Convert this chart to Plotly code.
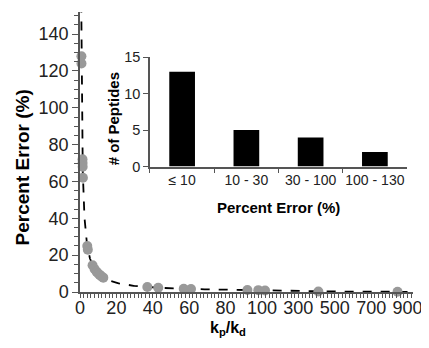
import numpy as np
import plotly.graph_objects as go

# ---- data ----
kp_kd = [0.78, 0.81, 1.38, 1.42, 1.47, 1.60, 4.0, 4.3, 6.9, 8.0, 9.1, 10.0, 10.8, 11.8, 12.8,
         37, 43, 57, 61, 92, 98, 117, 410, 845]
pct_error = [128, 124, 72, 70, 68, 62, 25, 23, 14.5, 12.5, 11, 10, 9.3, 8.5, 7.8,
             2.7, 2.3, 1.75, 1.6, 1.1, 1.0, 0.85, 0.24, 0.12]

bins = ["\u2264 10", "10 - 30", "30 - 100", "100 - 130"]
counts = [13, 5, 4, 2]

x_tick_vals_raw = [0, 20, 40, 60, 80, 100, 300, 500, 700, 900]
x_tick_text = ["0", "20", "40", "60", "80", "100", "300", "500", "700", "900"]
y_tick_vals = [0, 20, 40, 60, 80, 100, 120, 140]


def brk(v):
    """Broken x scale: linear to 100, then compressed 10x."""
    v = np.asarray(v, dtype=float)
    return np.where(v <= 100, v, 100 + (v - 100) / 10.0)


# power-law trendline fitted to the data (like a spreadsheet trendline)
lx, ly = np.log(kp_kd), np.log(pct_error)
b, a = np.polyfit(lx, ly, 1)
fit_x = np.geomspace(0.6, 900, 600)
fit_y = np.exp(a) * fit_x ** b

FONT = "Liberation Sans, Arial, sans-serif"
AX = "#555555"
TXT = "#222222"

fig = go.Figure()
fig.add_trace(go.Scatter(x=brk(fit_x), y=fit_y, mode="lines",
                         line=dict(color="black", width=1.8, dash="dash"),
                         hoverinfo="skip", xaxis="x", yaxis="y"))
fig.add_trace(go.Scatter(x=brk(kp_kd), y=pct_error, mode="markers",
                         marker=dict(color="#999999", size=10),
                         cliponaxis=False, xaxis="x", yaxis="y"))
fig.add_trace(go.Bar(x=bins, y=counts, marker=dict(color="black", line=dict(width=0)),
                     width=0.4, xaxis="x2", yaxis="y2"))

# page body has an 8px default margin, so the figure is drawn 8px smaller
fig.update_layout(
    width=421, height=340,
    margin=dict(l=72, r=16, t=4, b=56, autoexpand=False),
    paper_bgcolor="white", plot_bgcolor="white",
    showlegend=False,
    font=dict(family=FONT, color=TXT),
    xaxis=dict(
        domain=[0, 1], range=[0, 183], automargin=False,
        tickmode="array", tickvals=list(brk(x_tick_vals_raw)), ticktext=x_tick_text,
        ticks="outside", ticklen=4, tickcolor=AX, tickwidth=1,
        minor=dict(dtick=2, tick0=0, ticks="outside", ticklen=4, tickcolor=AX),
        showline=True, linecolor=AX, linewidth=1.5,
        showgrid=False, zeroline=False, tickangle=0, ticklabelstandoff=-5,
        tickfont=dict(size=18, color=TXT),
    ),
    yaxis=dict(
        domain=[0, 1], range=[0, 152], automargin=False,
        tickmode="array", tickvals=y_tick_vals,
        ticks="outside", ticklen=6, tickcolor=AX,
        minor=dict(dtick=5, tick0=0, ticks="outside", ticklen=4, tickcolor=AX),
        showline=True, linecolor=AX, linewidth=1.5,
        showgrid=False, zeroline=False,
        tickfont=dict(size=18, color=TXT),
    ),
    xaxis2=dict(
        domain=[0.2102, 0.982], anchor="y2", automargin=False,
        type="category", tickson="boundaries", tickangle=0,
        ticks="outside", ticklen=5, tickcolor=AX,
        showline=True, linecolor=AX, linewidth=1.5,
        showgrid=False, zeroline=False,
        tickfont=dict(size=14, color=TXT),
    ),
    yaxis2=dict(
        domain=[0.448, 0.8387], anchor="x2", range=[0, 15], automargin=False,
        tickvals=[0, 5, 10, 15],
        ticks="outside", ticklen=5, tickcolor=AX,
        showline=True, linecolor=AX, linewidth=1.5,
        showgrid=False, zeroline=False,
        tickfont=dict(size=14.5, color=TXT),
    ),
    annotations=[
        dict(text="<b>Percent Error (%)</b>", xref="paper", yref="paper",
             x=-0.174, y=0.445, textangle=-90, showarrow=False,
             xanchor="center", yanchor="middle", font=dict(size=19, color="black")),
        dict(text="<b>k<sub>p</sub>/k<sub>d</sub></b>", xref="paper", yref="paper",
             x=0.444, y=-0.13, showarrow=False,
             xanchor="center", yanchor="middle", font=dict(size=16, color="black")),
        dict(text="<b>Percent Error (%)</b>", xref="paper", yref="paper",
             x=0.595, y=0.301, showarrow=False,
             xanchor="center", yanchor="middle", font=dict(size=15, color="black")),
        dict(text="<b># of Peptides</b>", xref="paper", yref="paper",
             x=0.099, y=0.62, textangle=-90, showarrow=False,
             xanchor="center", yanchor="middle", font=dict(size=15, color="black")),
    ],
)

fig.write_html("out.html")
